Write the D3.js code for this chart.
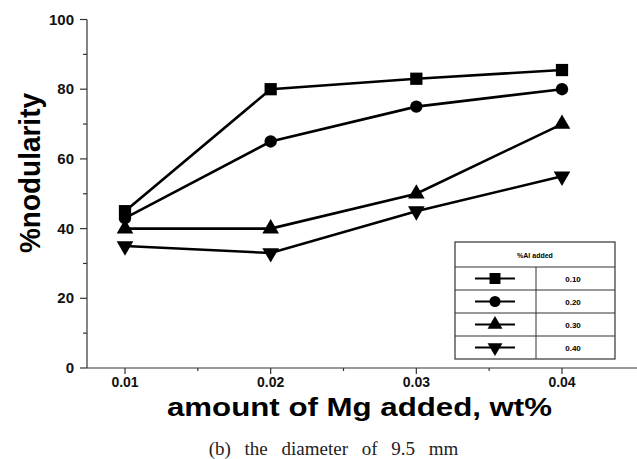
<!DOCTYPE html>
<html>
<head>
<meta charset="utf-8">
<script src="https://cdn.jsdelivr.net/npm/d3@7"></script>
<style>
body { margin: 0; background: #fff; }
svg text { font-family: "Liberation Sans", Arial, sans-serif; }
</style>
</head>
<body>
<div id="chart"></div>
<script>
var mgAdded = [0.01, 0.02, 0.03, 0.04];
var alLabels = ["0.10", "0.20", "0.30", "0.40"];
var al010 = [45, 80, 83, 85.5];
var al020 = [43, 65, 75, 80];
var al030 = [40, 40, 50, 70];
var al040 = [35, 33, 45, 55];
var yTicks = [0, 20, 40, 60, 80, 100];
var xMinor = [0.015, 0.025, 0.035];

var series = [
    {name: alLabels[0], values: al010, shape: d3.symbolSquare, size: 150, rot: 0},
    {name: alLabels[1], values: al020, shape: d3.symbolCircle, size: 120, rot: 0},
    {name: alLabels[2], values: al030, shape: d3.symbolTriangle, size: 120, rot: 0},
    {name: alLabels[3], values: al040, shape: d3.symbolTriangle, size: 120, rot: 180}
];

var W = 637, H = 459;
var svg = d3.select("#chart")
    .append("svg")
    .attr("width", W)
    .attr("height", H);

var x = d3.scaleLinear()
    .domain([0.01, 0.04])
    .range([125, 562]);

var y = d3.scaleLinear()
    .domain([0, 100])
    .range([368, 19.5]);

var x0 = 87;

// Y axis
svg.append("line")
    .attr("x1", x0).attr("x2", x0)
    .attr("y1", y(100)).attr("y2", y(0))
    .attr("stroke", "#333").attr("stroke-width", 1.2);
svg.append("g").selectAll("line")
    .data(d3.range(0, 101, 10))
    .enter()
    .append("line")
    .attr("x1", x0)
    .attr("x2", function (d) { return d % 20 === 0 ? x0 - 7 : x0 - 4; })
    .attr("y1", function (d) { return y(d); })
    .attr("y2", function (d) { return y(d); })
    .attr("stroke", "#333")
    .attr("stroke-width", 1.2);
svg.append("g").selectAll("text")
    .data(yTicks)
    .enter()
    .append("text")
    .attr("x", 74)
    .attr("y", function (d) { return y(d) + 5; })
    .attr("text-anchor", "end")
    .attr("font-size", 15)
    .attr("font-weight", "bold")
    .attr("fill", "#111")
    .text(function (d) { return d; });

// X axis
svg.append("line")
    .attr("x1", x0).attr("x2", 637)
    .attr("y1", y(0)).attr("y2", y(0))
    .attr("stroke", "#333").attr("stroke-width", 1.2);
svg.append("g").selectAll("line")
    .data(mgAdded.concat(xMinor))
    .enter()
    .append("line")
    .attr("x1", function (d) { return x(d); })
    .attr("x2", function (d) { return x(d); })
    .attr("y1", y(0))
    .attr("y2", function (d, i) { return y(0) + (i < mgAdded.length ? 6 : 3); })
    .attr("stroke", "#333")
    .attr("stroke-width", 1.2);
svg.append("g").selectAll("text")
    .data(mgAdded)
    .enter()
    .append("text")
    .attr("x", function (d) { return x(d); })
    .attr("y", 387)
    .attr("text-anchor", "middle")
    .attr("font-size", 14)
    .attr("font-weight", "bold")
    .attr("fill", "#111")
    .text(function (d) { return d.toFixed(2); });

// axis titles
svg.append("text")
    .attr("transform", "translate(40,173)rotate(-90)")
    .attr("text-anchor", "middle")
    .attr("font-size", 30)
    .attr("font-weight", "bold")
    .attr("textLength", 160)
    .attr("lengthAdjust", "spacingAndGlyphs")
    .text("%nodularity");
svg.append("text")
    .attr("x", 359.5)
    .attr("y", 416)
    .attr("text-anchor", "middle")
    .attr("font-size", 25)
    .attr("font-weight", "bold")
    .attr("textLength", 385)
    .attr("lengthAdjust", "spacingAndGlyphs")
    .text("amount of Mg added, wt%");
svg.append("text")
    .attr("x", 333.5)
    .attr("y", 455)
    .attr("text-anchor", "middle")
    .attr("font-size", 19)
    .attr("word-spacing", 9)
    .style("font-family", "'Liberation Serif', 'DejaVu Serif', serif")
    .attr("fill", "#222")
    .text("(b) the diameter of 9.5 mm");

// lines + markers
var line = d3.line()
    .x(function (d, i) { return x(mgAdded[i]); })
    .y(function (d) { return y(d); });

series.forEach(function (s) {
    svg.append("path")
        .datum(s.values)
        .attr("d", line)
        .attr("fill", "none")
        .attr("stroke", "#000")
        .attr("stroke-width", 2.6);
    svg.append("g").selectAll("path")
        .data(s.values)
        .enter()
        .append("path")
        .attr("d", d3.symbol().type(s.shape).size(s.size))
        .attr("transform", function (d, i) {
            return "translate(" + x(mgAdded[i]) + "," + y(d) + ")rotate(" + s.rot + ")";
        })
        .attr("fill", "#000");
});

// legend table
var lg = {x: 455, y: 242, w: 160, h: 117, head: 25, col: 81};
var rowH = (lg.h - lg.head) / series.length;
var legend = svg.append("g");
legend.append("rect")
    .attr("x", lg.x).attr("y", lg.y)
    .attr("width", lg.w).attr("height", lg.h)
    .attr("fill", "#fff").attr("stroke", "#333").attr("stroke-width", 1.2);
legend.append("text")
    .attr("x", lg.x + lg.w / 2)
    .attr("y", lg.y + 16)
    .attr("text-anchor", "middle")
    .attr("font-size", 7)
    .attr("font-weight", "bold")
    .text("%Al added");
legend.append("line")
    .attr("x1", lg.x + lg.col).attr("x2", lg.x + lg.col)
    .attr("y1", lg.y + lg.head).attr("y2", lg.y + lg.h)
    .attr("stroke", "#333");
series.forEach(function (s, i) {
    var ry = lg.y + lg.head + i * rowH;
    legend.append("line")
        .attr("x1", lg.x).attr("x2", lg.x + lg.w)
        .attr("y1", ry).attr("y2", ry)
        .attr("stroke", "#333");
    var cy = ry + rowH / 2;
    legend.append("line")
        .attr("x1", lg.x + 20).attr("x2", lg.x + 60)
        .attr("y1", cy).attr("y2", cy)
        .attr("stroke", "#000").attr("stroke-width", 2.2);
    legend.append("path")
        .attr("d", d3.symbol().type(s.shape).size(s.size * 0.8))
        .attr("transform", "translate(" + (lg.x + 40) + "," + cy + ")rotate(" + s.rot + ")")
        .attr("fill", "#000");
    legend.append("text")
        .attr("x", lg.x + 118)
        .attr("y", cy + 3)
        .attr("text-anchor", "middle")
        .attr("font-size", 8)
        .attr("font-weight", "bold")
        .text(s.name);
});
</script>
</body>
</html>
